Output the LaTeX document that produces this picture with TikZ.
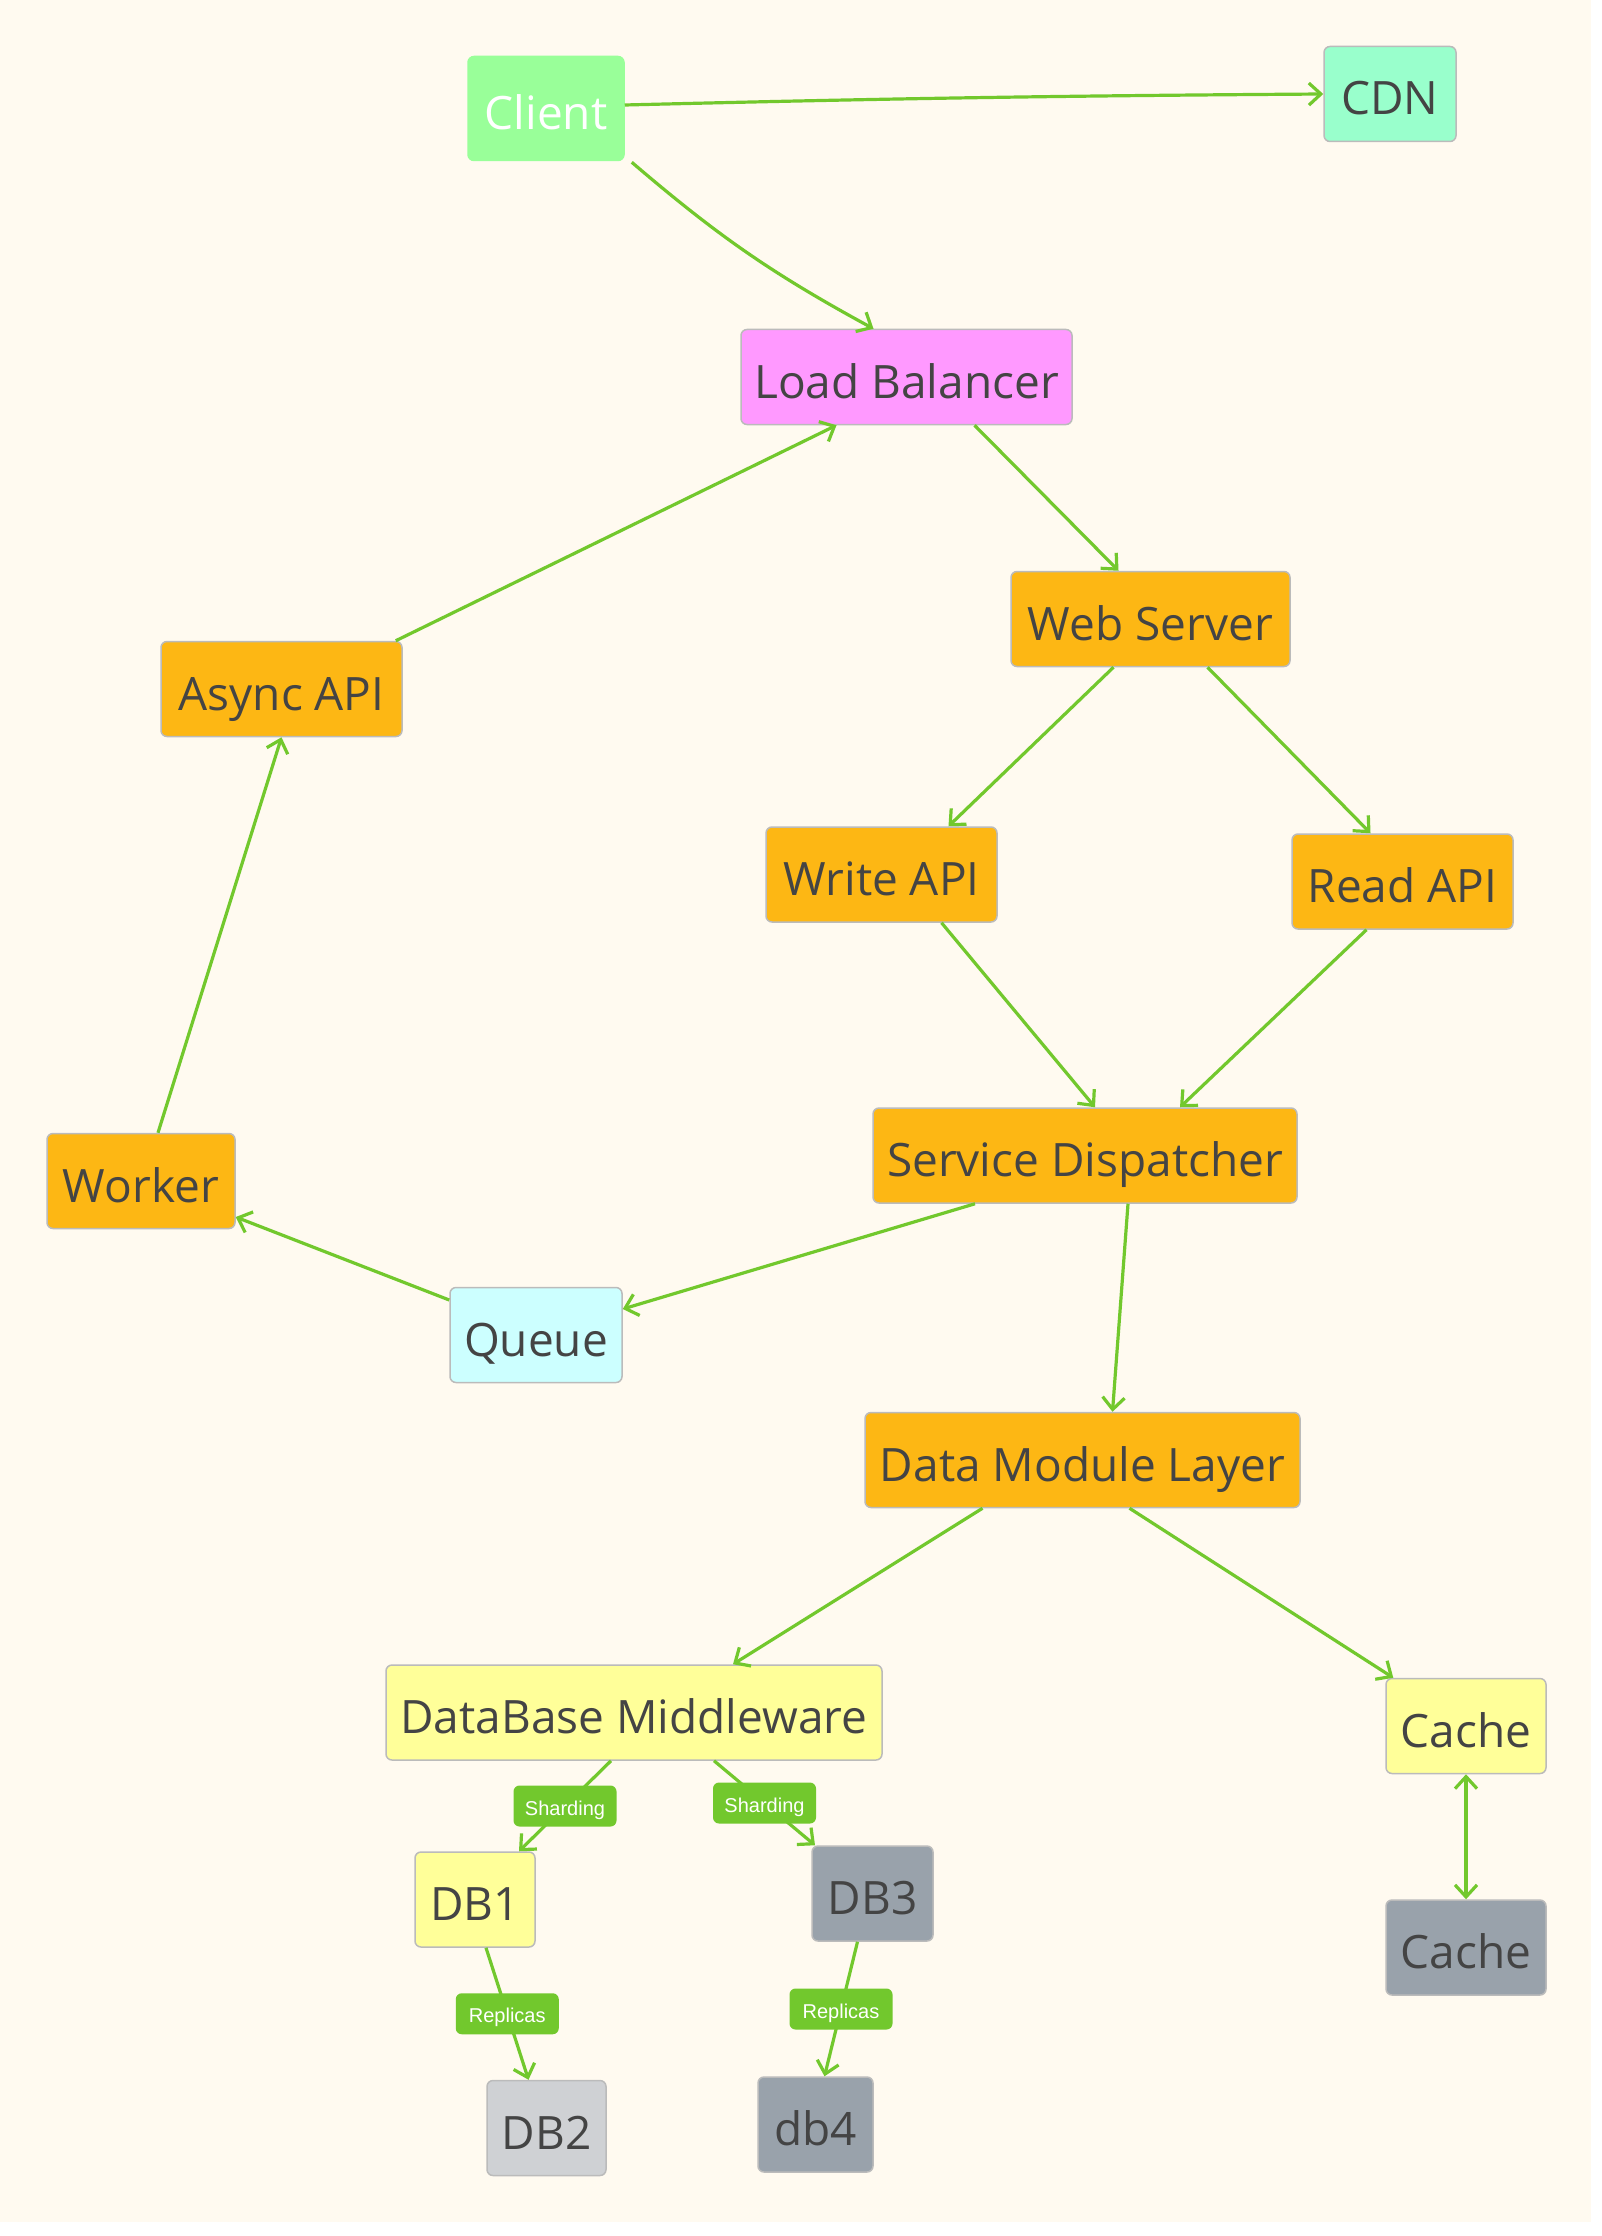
\documentclass[tikz,border=0pt]{standalone}
\usepackage{fontspec}
\usepackage{xcolor}
\usepackage{tikz}
\usetikzlibrary{calc,arrows.meta}
\newfontfamily\boxfont{Open Sans}
\newfontfamily\tagfont{Liberation Sans}
\definecolor{paper}{HTML}{FFFAF0}
\definecolor{ink}{HTML}{444444}
\definecolor{rim}{HTML}{BBBBBB}
\definecolor{wire}{HTML}{72C82D}
\definecolor{mint}{HTML}{99FF99}
\definecolor{aqua}{HTML}{99FFCC}
\definecolor{pink}{HTML}{FF99FF}
\definecolor{amber}{HTML}{FDB714}
\definecolor{ice}{HTML}{CCFFFF}
\definecolor{lemon}{HTML}{FFFF99}
\definecolor{slate}{HTML}{99A2AB}
\definecolor{mist}{HTML}{CFD1D4}
\tikzstyle{box}=[draw=rim, line width=.75pt, rounded corners=3pt, text=ink, inner sep=0pt,
  minimum height=47.5pt, text height=21pt, text depth=0pt, font=\boxfont\fontsize{23}{27}\selectfont]
\tikzstyle{tag}=[fill=wire, text=white, rounded corners=3pt, inner sep=0pt,
  minimum width=51.5pt, minimum height=20.5pt, text height=9pt, text depth=0pt,
  font=\tagfont\fontsize{10}{12}\selectfont]
\tikzstyle{link}=[->, draw=wire, line width=1.6pt]

\begin{document}
\begin{tikzpicture}[x=.5pt, y=-.5pt, >={Straight Barb[length=6pt,width=11pt]}]
\useasboundingbox (0,0) rectangle (1601,2236);
\fill[paper] (0,0) rectangle (1591,2222);
% entry
\node[box, fill=mint, draw=mint, text=white, minimum width=78pt, minimum height=52pt] (client) at (546,108.5) {Client};
\node[box, fill=aqua, minimum width=66pt] (cdn) at (1390,94) {CDN};
\node[box, fill=pink, minimum width=165.5pt] (lb) at (906.5,377) {Load Balancer};
% services
\node[box, fill=amber, minimum width=139.5pt] (web) at (1150.5,619) {Web Server};
\node[box, fill=amber, minimum width=120.5pt] (async) at (281.5,689) {Async API};
\node[box, fill=amber, minimum width=115.5pt] (write) at (881.5,874.5) {Write API};
\node[box, fill=amber, minimum width=110.5pt] (read) at (1402.5,881.5) {Read API};
\node[box, fill=amber, minimum width=212pt] (sd) at (1085,1155.5) {Service Dispatcher};
\node[box, fill=amber, minimum width=94pt] (worker) at (141,1181) {Worker};
\node[box, fill=ice, minimum width=86pt] (queue) at (536,1335) {Queue};
\node[box, fill=amber, minimum width=217.5pt] (dml) at (1082.5,1460) {Data Module Layer};
% storage
\node[box, fill=lemon, minimum width=248pt] (dbm) at (634,1712.5) {DataBase Middleware};
\node[box, fill=lemon, minimum width=80pt] (cache) at (1466,1726) {Cache};
\node[box, fill=slate, minimum width=80pt] (cache2) at (1466,1947.5) {Cache};
\node[box, fill=lemon, minimum width=60pt] (db1) at (475,1899.5) {DB1};
\node[box, fill=slate, minimum width=60.5pt] (db3) at (872.5,1893.5) {DB3};
\node[box, fill=mist, minimum width=59.5pt] (db2) at (546.5,2128) {DB2};
\node[box, fill=slate, minimum width=57.5pt] (db4) at (815.5,2124.5) {db4};
% connectors
\draw[link] ($(client.east)+(0,-3.5)$) to[bend left=.5] (cdn.west);
\draw[link] ($(client.south east)+(7,1)$) to[bend right=6] ($(lb.north)+(-33,0)$);
\foreach \f/\fa/\fx/\t/\ta/\tx in {async/north east/-7/lb/south/-70, lb/south/68/web/north/-32,
    web/south/-37/write/north/67, web/south/57/read/north/-32, write/south/60/sd/north/10,
    read/south/-36/sd/north/95, worker/north/17/async/south/0, sd/south/43/dml/north/30,
    dml/south/-100/dbm/north/99, dml/south/47/cache/north west/8}
  \draw[link] ($(\f.\fa)+(\fx,0)$) -- ($(\t.\ta)+(\tx,0)$);
\draw[link] ($(sd.south)+(-110,0)$) -- ($(queue.east)+(0,-26)$);
\draw[link] ($(queue.west)+(0,-35)$) -- ($(worker.east)+(0,36)$);
\draw[link, <->] (cache.south) -- (cache2.north);
\foreach \f/\fx/\t/\tx/\l in {dbm/-23/db1/44/Sharding, dbm/80/db3/-57.5/Sharding,
    db1/11/db2/-18/Replicas, db3/-15/db4/9/Replicas}
  \draw[link] ($(\f.south)+(\fx,0)$) -- node[tag] {\l} ($(\t.north)+(\tx,0)$);
\end{tikzpicture}
\end{document}
